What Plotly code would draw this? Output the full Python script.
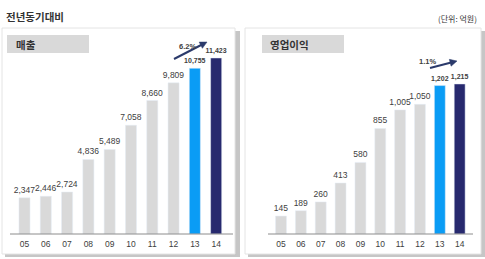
import plotly.graph_objects as go

W, H = 485, 259
years = ["05", "06", "07", "08", "09", "10", "11", "12", "13", "14"]
sales = [2347, 2446, 2724, 4836, 5489, 7058, 8660, 9809, 10755, 11423]
op_profit = [145, 189, 260, 413, 580, 855, 1005, 1050, 1202, 1215]
bar_colors = ["#d9d9d9"] * 8 + ["#0a9cf5", "#27296e"]

def px(x):
    return x / W

def py(y):
    return 1 - y / H

def labels(vals):
    out = []
    for i, v in enumerate(vals):
        s = f"{v:,}"
        out.append(f"<b><span style='font-size:7px'>{s}</span></b>" if i >= 8 else s)
    return out

FONT = "Liberation Sans, Arial, Noto Sans CJK KR, sans-serif"
KFONT = "Noto Sans CJK KR, sans-serif"

fig = go.Figure()
fig.add_trace(go.Bar(x=years, y=sales, marker_color=bar_colors, width=0.52,
                     text=labels(sales), textposition="outside", cliponaxis=False,
                     constraintext="none",
                     textfont=dict(size=8.5, color="#404040", family=FONT),
                     xaxis="x", yaxis="y", showlegend=False))
fig.add_trace(go.Bar(x=years, y=op_profit, marker_color=bar_colors, width=0.55,
                     text=labels(op_profit), textposition="outside", cliponaxis=False,
                     constraintext="none",
                     textfont=dict(size=8.5, color="#404040", family=FONT),
                     xaxis="x2", yaxis="y2", showlegend=False))

shapes = []
# panel shadows and panels
for (x0, x1) in [(2, 235), (245, 481)]:
    shapes.append(dict(type="rect", xref="paper", yref="paper", x0=px(x1), x1=px(x1 + 5),
                       y0=py(257), y1=py(31), fillcolor="#c6c6c6", line=dict(width=0), layer="below"))
    shapes.append(dict(type="rect", xref="paper", yref="paper", x0=px(x0 + 3), x1=px(x1 + 5),
                       y0=py(257), y1=py(254), fillcolor="#c6c6c6", line=dict(width=0), layer="below"))
    shapes.append(dict(type="rect", xref="paper", yref="paper", x0=px(x0), x1=px(x1),
                       y0=py(254), y1=py(28), fillcolor="white", line=dict(color="#e4e4e4", width=1),
                       layer="below"))
# header boxes
for (x0, x1) in [(7, 89), (262, 344)]:
    shapes.append(dict(type="rect", xref="paper", yref="paper", x0=px(x0), x1=px(x1),
                       y0=py(53), y1=py(35), fillcolor="#d9d9d9", line=dict(width=0), layer="below"))
# baselines
for (x0, x1) in [(10, 233), (268, 473)]:
    shapes.append(dict(type="line", xref="paper", yref="paper", x0=px(x0), x1=px(x1),
                       y0=py(234), y1=py(234), line=dict(color="#8c8c8c", width=1)))
# growth arrows drawn as shaft + filled head
arrows = [((174, 59), (207, 42)), ((430, 68), (457, 61))]
for (tx, ty), (hx, hy) in arrows:
    dx, dy = hx - tx, hy - ty
    L = (dx * dx + dy * dy) ** 0.5
    ux, uy = dx / L, dy / L
    hl, hw = 7.0, 3.5
    bx, by = hx - ux * hl, hy - uy * hl
    shapes.append(dict(type="line", xref="paper", yref="paper", x0=px(tx), y0=py(ty),
                       x1=px(bx + ux), y1=py(by + uy), line=dict(color="#2b3a6b", width=2)))
    p1 = (bx - uy * hw, by + ux * hw)
    p2 = (bx + uy * hw, by - ux * hw)
    path = (f"M {px(hx)} {py(hy)} L {px(p1[0])} {py(p1[1])} "
            f"L {px(p2[0])} {py(p2[1])} Z")
    shapes.append(dict(type="path", xref="paper", yref="paper", path=path,
                       fillcolor="#2b3a6b", line=dict(color="#2b3a6b", width=0.5)))

ann = []
ann.append(dict(text="<b>전년동기대비</b>", x=px(4), y=py(17), xref="paper", yref="paper",
                xanchor="left", yanchor="middle", showarrow=False,
                font=dict(size=10.5, color="#333333", family=KFONT)))
ann.append(dict(text="(단위: 억원)", x=px(479), y=py(19), xref="paper", yref="paper",
                xanchor="right", yanchor="middle", showarrow=False,
                font=dict(size=8, color="#333333", family=KFONT)))
ann.append(dict(text="<b>매출</b>", x=px(14), y=py(44), xref="paper", yref="paper",
                xanchor="left", yanchor="middle", showarrow=False,
                font=dict(size=10.5, color="#333333", family=KFONT)))
ann.append(dict(text="<b>영업이익</b>", x=px(268), y=py(44), xref="paper", yref="paper",
                xanchor="left", yanchor="middle", showarrow=False,
                font=dict(size=10.5, color="#333333", family=KFONT)))
ann.append(dict(text="<b>6.2%</b>", x=px(187), y=py(40), xref="paper", yref="paper",
                showarrow=False, font=dict(size=7.5, color="#404040", family=FONT)))
ann.append(dict(text="<b>1.1%</b>", x=px(438), y=py(55), xref="paper", yref="paper",
                showarrow=False, font=dict(size=7.5, color="#404040", family=FONT)))

axis_common = dict(showgrid=False, zeroline=False, showline=False, ticks="",
                   ticklabelstandoff=3,
                   tickfont=dict(size=8.5, color="#404040", family=FONT), fixedrange=True)

fig.update_layout(
    width=W, height=H, margin=dict(l=0, r=0, t=0, b=0),
    paper_bgcolor="white", plot_bgcolor="rgba(0,0,0,0)",
    xaxis=dict(domain=[px(13.85), px(226.8)], anchor="y", **axis_common),
    yaxis=dict(domain=[py(234), py(40)], range=[0, 12590], visible=False, anchor="x"),
    xaxis2=dict(domain=[px(271.1), px(469.6)], anchor="y2", **axis_common),
    yaxis2=dict(domain=[py(234), py(40)], range=[0, 1571], visible=False, anchor="x2"),
    shapes=shapes, annotations=ann, bargap=0.45,
)

fig.write_html("out.html")
